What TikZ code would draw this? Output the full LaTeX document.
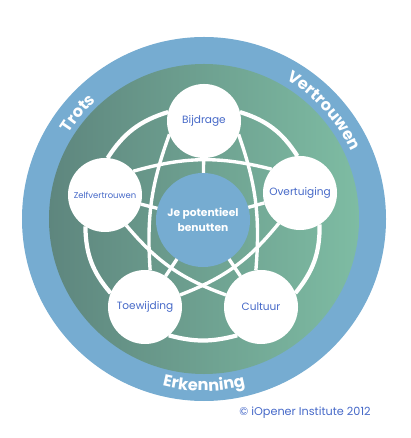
\documentclass[tikz,border=0pt]{standalone}
\usepackage{fontspec}
\setmainfont{Poppins}
\usetikzlibrary{decorations.text}

\definecolor{ringblue}{RGB}{118,172,209}
\definecolor{leafdark}{RGB}{94,134,126}
\definecolor{leaflight}{RGB}{126,188,163}
\definecolor{labelblue}{RGB}{70,105,200}

\newcommand{\ringfont}{\bfseries\fontsize{11.5}{12}\selectfont}

\tikzset{
  bubble/.style={circle, fill=white, minimum size=1.85cm, inner sep=0pt,
    outer sep=0pt, text=labelblue, font=\fontsize{7.5}{9}\selectfont},
  core/.style={circle, fill=ringblue, minimum size=2.35cm, inner sep=0pt,
    outer sep=0pt, text=white, align=center,
    font=\bfseries\fontsize{7.6}{10.5}\selectfont},
  link/.style={white, line width=2.4pt},
  rim/.style={white, line width=3pt},
  ringtext/.style={decorate, decoration={text along path, text color=white,
    text align=center, text={|\ringfont|#1}}}
}

\begin{document}
\begin{tikzpicture}[x=0.025cm, y=0.025cm]

\useasboundingbox (-203,-218) rectangle (207,220);

% Rings
\fill[ringblue] (1,1) circle[radius=182];
\shade[left color=leafdark, right color=leaflight] (1,1) circle[radius=155];

% Circles
\node[core] (M) at (0,0) {Je potentieel\\benutten};
\node[bubble] (B) at (1,99) {Bijdrage};
\node[bubble] (O) at (97,27) {Overtuiging};
\node[bubble, font=\fontsize{6}{8}\selectfont] (Z) at (-98,25) {Zelfvertrouwen};
\node[bubble] (T) at (-58,-87) {Toewijding};
\node[bubble] (C) at (58,-87) {Cultuur};

% Outer arcs
\draw[rim] (O.94) to[bend right=20] (B.14);
\draw[rim] (B.166) to[bend right=20] (Z.86);
\draw[rim] (Z.238) to[bend right=20] (T.158);
\draw[rim] (T.310) to[bend right=15] (C.230);
\draw[rim] (C.22) to[bend right=20] (O.-58);

% Star
\draw[link] (Z.40) to[bend left=15] (O.140);
\draw[link] (B.201) to[bend right=12] (T.82);
\draw[link] (B.339) to[bend left=12] (C.98);
\draw[link] (Z.-55) to[bend right=15] (C.161);
\draw[link] (O.-125) to[bend left=15] (T.19);

% Spokes
\foreach \n in {B,O,Z,T,C}
  \draw[link] (M) -- (\n);

% Ring labels
\path[ringtext=Trots] (1,1) ++(175:160) arc[start angle=175, end angle=105, radius=160];
\path[ringtext=Vertrouwen] (1,1) ++(82:162) arc[start angle=82, end angle=2, radius=162];
\path[ringtext=Erkenning] (1,1) ++(235:172) arc[start angle=235, end angle=305, radius=172];

\node[text=labelblue, font=\fontsize{8}{10}\selectfont] (copy) at (102,-193) {© iOpener Institute 2012};

\end{tikzpicture}
\end{document}
